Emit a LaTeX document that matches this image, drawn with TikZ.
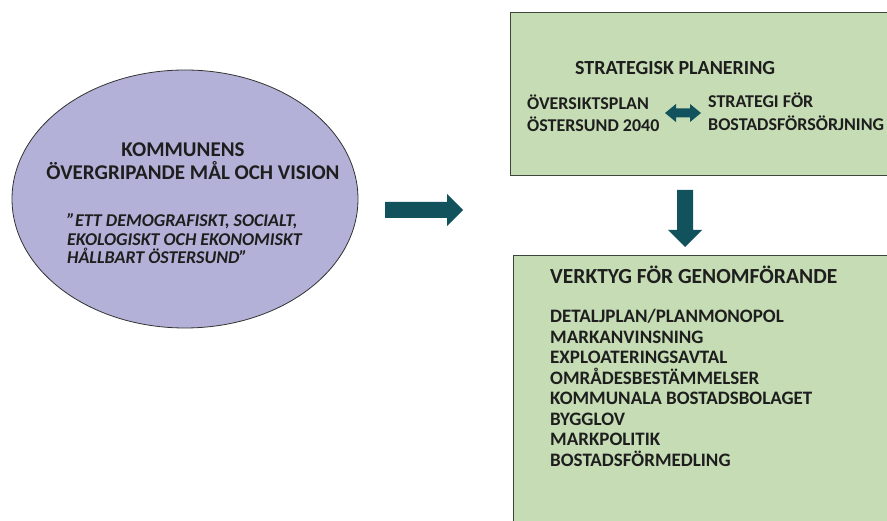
\documentclass[tikz,border=0pt]{standalone}
\usepackage{fontspec}
\setmainfont{Carlito}
\usetikzlibrary{shapes.geometric}
\definecolor{lav}{RGB}{179,177,216}
\definecolor{grn}{RGB}{197,220,180}
\definecolor{arrowc}{RGB}{17,82,92}
\definecolor{txt}{RGB}{30,30,30}
\definecolor{bord}{RGB}{60,70,60}
\tikzset{
  lbl/.style={anchor=base west, inner sep=0, text=txt, font=\bfseries\fontsize{18}{20}\selectfont},
  item/.style={anchor=base west, inner sep=0, text=txt, font=\bfseries\fontsize{19}{20}\selectfont},
  quote/.style={anchor=base west, inner sep=0, text=txt, font=\bfseries\itshape\fontsize{18}{20}\selectfont},
  title/.style={anchor=base, inner sep=0, text=txt, font=\bfseries\fontsize{21}{24}\selectfont},
  gbox/.style={draw=bord, line width=1pt, fill=grn, anchor=north west, inner sep=0},
  blockarrow/.style={fill=arrowc}
}
\begin{document}
\begin{tikzpicture}[x=1pt,y=-1pt]
\useasboundingbox (0,0) rectangle (887,521);
\fill[white] (0,0) rectangle (887,521);
% ellipse
\node[ellipse, draw=black!80, line width=0.8pt, fill=lav, minimum width=346pt, minimum height=258pt, inner sep=0] (vision) at (185,199) {};
\node[title] (t1) at (183,157) {KOMMUNENS};
\node[title] (t2) at (193,180) {ÖVERGRIPANDE MÅL OCH VISION};
\node[quote] (q1) at (67,227) {”ETT DEMOGRAFISKT, SOCIALT,};
\node[quote] (q2) at (67,245.5) {EKOLOGISKT OCH EKONOMISKT};
\node[quote] (q3) at (67,264) {HÅLLBART ÖSTERSUND”};
% boxes
\node[gbox, minimum width=377pt, minimum height=163pt] (strat) at (510,12) {};
\node[gbox, minimum width=385pt, minimum height=280pt] (verk) at (513,255) {};
% box1 text
\node[anchor=base west, inner sep=0, text=txt, font=\bfseries\fontsize{20}{24}\selectfont] (sp) at (575,75) {STRATEGISK PLANERING};
\node[lbl] (op1) at (527,110) {ÖVERSIKTSPLAN};
\node[lbl] (op2) at (527,132) {ÖSTERSUND 2040};
\node[lbl] (sb1) at (708,108) {STRATEGI FÖR};
\node[lbl] (sb2) at (708,131) {BOSTADSFÖRSÖRJNING};
% box2 text
\node[anchor=base west, inner sep=0, text=txt, font=\bfseries\fontsize{21.5}{24}\selectfont] (vg) at (550,284) {VERKTYG FÖR GENOMFÖRANDE};
\node[item] (i1) at (550,322.7) {DETALJPLAN/PLANMONOPOL};
\node[item] (i2) at (550,343.2) {MARKANVINSNING};
\node[item] (i3) at (550,363.7) {EXPLOATERINGSAVTAL};
\node[item] (i4) at (550,384.2) {OMRÅDESBESTÄMMELSER};
\node[item] (i5) at (550,404.7) {KOMMUNALA BOSTADSBOLAGET};
\node[item] (i6) at (550,425.2) {BYGGLOV};
\node[item] (i7) at (550,445.7) {MARKPOLITIK};
\node[item] (i8) at (550,466.2) {BOSTADSFÖRMEDLING};
% arrows
\fill[blockarrow] (385,202) -- (447,202) -- (447,194) -- (463,210) -- (447,226) -- (447,218) -- (385,218) -- cycle;
\fill[blockarrow] (677,190) -- (693,190) -- (693,230) -- (702,230) -- (685,247) -- (668,230) -- (677,230) -- cycle;
\fill[blockarrow] (665,113) -- (676,104) -- (676,108.5) -- (690,108.5) -- (690,104) -- (701,113) -- (690,122) -- (690,117.5) -- (676,117.5) -- (676,122) -- cycle;
\end{tikzpicture}
\end{document}
